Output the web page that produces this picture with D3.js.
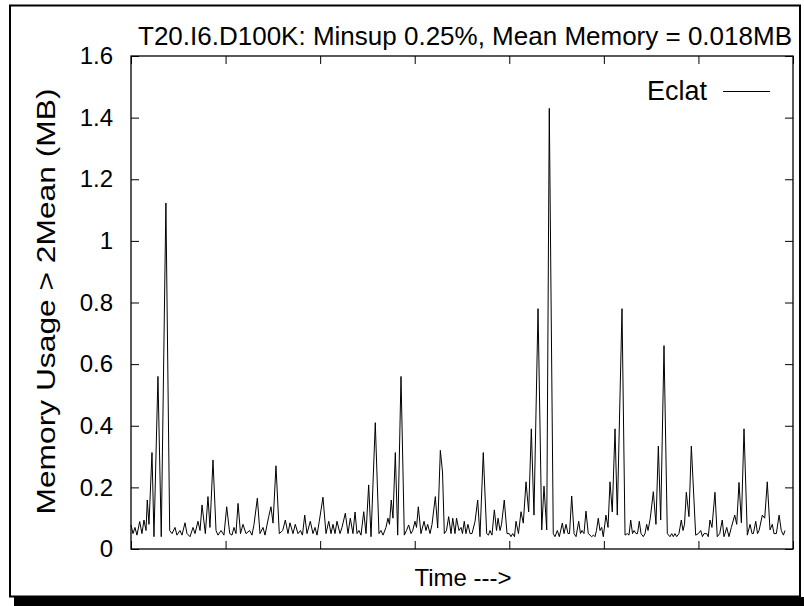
<!DOCTYPE html>
<html><head><meta charset="utf-8">
<script src="https://cdn.jsdelivr.net/npm/d3@7"></script>
<style>
html,body{margin:0;padding:0;background:#fff;}
svg{display:block;}
text{font-family:"Liberation Sans",Arial,Helvetica,sans-serif;fill:#000;}
</style></head>
<body>
<script>
const title = "T20.I6.D100K: Minsup 0.25%, Mean Memory = 0.018MB";
const xLabel = "Time --->";
const yLabel = "Memory Usage > 2Mean (MB)";
const seriesName = "Eclat";
const yTickValues = [0, 0.2, 0.4, 0.6, 0.8, 1, 1.2, 1.4, 1.6];
const xTickValues = [0, 100, 200, 300, 400, 500, 600, 700];
const time = [0,2.1,4.2,6.3,9.2,11.6,13.7,15.9,17.2,19.0,22.2,24.3,28.5,32.0,36.9,40.9,43.4,46.5,48.6,51.8,53.9,57.1,59.2,62.4,65.6,67.7,70.8,73.0,75.1,78.6,81.4,83.5,86.7,89.9,92.0,95.2,98.3,101.2,104.4,106.8,108.9,111.0,113.2,115.8,118.4,121.6,125.5,127.9,130.1,133.6,136.4,139.6,141.7,
145.6,148.0,150.2,153.3,156.8,160.4,163.2,166.0,168.1,171.3,173.7,176.6,179.2,181.3,183.7,186.1,189.6,192.4,194.6,196.7,199.1,203.0,206.2,209.1,211.5,213.6,215.7,217.8,221.0,223.1,226.6,229.5,231.9,234.7,236.9,239.0,241.1,243.2,246.1,248.5,251.3,253.8,258.3,262.2,264.3,266.5,269.6,271.7,273.3,275.2,277.0,279.5,282.0,285.5,289.0,
291.3,293.6,296.1,297.9,300.3,301.9,303.8,306.6,309.9,311.9,313.7,316.2,318.3,321.8,324.3,327.1,329.4,331.3,333.6,335.9,338.4,340.2,342.6,344.2,346.8,349.0,350.5,352.4,354.2,356.3,358.5,360.6,363.8,366.6,369.0,372.5,376.1,378.0,379.6,381.7,384.2,386.5,388.1,390.2,391.8,394.7,397.6,400.0,401.8,403.6,405.5,407.1,409.7,412.4,414.8,417.7,420.5,423.3,426.1,430.4,434.3,436.7,439.6,442.3,
446.5,448.3,450.8,452.9,456.1,457.9,460.0,462.1,463.7,466.0,468.5,470.6,473.4,475.3,476.9,479.0,481.1,483.5,485.4,487.1,489.0,490.6,492.2,494.1,495.9,497.7,499.4,502.2,504.4,506.5,508.9,511.8,514.2,519.2,522.4,524.8,526.6,528.4,530.3,531.9,534.0,535.6,537.5,539.3,541.7,543.5,545.3,546.7,549.1,552.3,555.1,557.6,560.1,563.6,
567.1,569.9,571.8,573.4,575.2,577.0,579.4,581.9,583.7,585.3,587.2,590.0,592.5,597.1,599.9,602.4,604.3,605.9,608.8,610.4,612.2,614.3,617.5,619.9,622.5,625.2,627.0,628.1,629.9,632.3,634.8,638.4,640.5,642.9,645.4,648.2,651.7,654.6,656.7,658.1,660.6,662.5,664.1,667.6,670.1,672.8,675.7,678.1,679.9,682.4,685.3,687.6,689.9,691.5];
const memory = [0.078,0.05,0.07,0.045,0.089,0.05,0.094,0.06,0.159,0.08,0.313,0.04,0.56,0.04,1.123,0.06,0.05,0.07,0.045,0.06,0.045,0.085,0.05,0.04,0.07,0.05,0.09,0.06,0.143,0.05,0.17,0.07,0.289,0.06,0.045,0.06,0.045,0.137,0.05,0.045,0.07,0.05,0.148,0.05,0.08,0.05,0.06,0.045,0.08,0.165,0.05,0.07,0.045,
0.105,0.137,0.084,0.27,0.05,0.06,0.094,0.05,0.085,0.05,0.08,0.05,0.06,0.045,0.11,0.05,0.09,0.05,0.07,0.045,0.09,0.168,0.05,0.09,0.05,0.08,0.05,0.09,0.05,0.07,0.116,0.05,0.1,0.05,0.12,0.05,0.06,0.045,0.121,0.05,0.208,0.04,0.41,0.05,0.06,0.045,0.07,0.1,0.08,0.159,0.1,0.313,0.045,0.56,0.045,
0.06,0.078,0.05,0.06,0.09,0.07,0.137,0.05,0.09,0.06,0.08,0.05,0.08,0.17,0.068,0.32,0.25,0.05,0.06,0.105,0.05,0.1,0.05,0.1,0.06,0.07,0.05,0.09,0.05,0.08,0.05,0.05,0.09,0.159,0.04,0.313,0.05,0.045,0.06,0.045,0.127,0.06,0.1,0.06,0.08,0.159,0.05,0.05,0.04,0.05,0.04,0.09,0.05,0.121,0.084,0.218,0.12,0.39,0.11,0.78,0.062,0.204,0.062,1.43,
0.05,0.04,0.06,0.04,0.084,0.05,0.08,0.05,0.05,0.172,0.05,0.04,0.09,0.05,0.06,0.05,0.123,0.05,0.045,0.04,0.045,0.04,0.06,0.1,0.06,0.07,0.04,0.11,0.07,0.218,0.12,0.39,0.11,0.78,0.045,0.05,0.045,0.094,0.05,0.06,0.05,0.05,0.09,0.05,0.04,0.05,0.08,0.06,0.1,0.186,0.08,0.334,0.094,0.66,
0.05,0.04,0.05,0.04,0.05,0.04,0.05,0.094,0.06,0.08,0.184,0.105,0.334,0.045,0.05,0.06,0.04,0.05,0.05,0.04,0.094,0.07,0.184,0.04,0.05,0.094,0.04,0.05,0.07,0.04,0.07,0.11,0.08,0.216,0.085,0.39,0.045,0.08,0.05,0.05,0.09,0.05,0.06,0.11,0.1,0.218,0.062,0.08,0.05,0.05,0.11,0.06,0.045,0.06];

const W = 804, H = 606;
const plot = {left:131, right:793, top:56, bottom:549};
const svg = d3.select("body").append("svg").attr("width", W).attr("height", H);

// outer frame with shadow
svg.append("rect").attr("x", 14).attr("y", 597).attr("width", 790).attr("height", 9).attr("fill", "#000");
svg.append("rect").attr("x", 10).attr("y", 5.5).attr("width", 790).attr("height", 591).attr("fill", "none").attr("stroke", "#000").attr("stroke-width", 2);

const x = d3.scaleLinear().domain([0, 700]).range([plot.left, plot.right]);
const y = d3.scaleLinear().domain([0, 1.6]).range([plot.bottom, plot.top]);

const fmt = d => d3.format("~g")(d);
const tl = 8;
svg.append("g").attr("transform", `translate(0,${plot.bottom})`)
  .call(d3.axisBottom(x).tickValues(xTickValues).tickSize(-tl).tickFormat(""))
  .call(g => g.select(".domain").remove());
svg.append("g").attr("transform", `translate(0,${plot.top})`)
  .call(d3.axisTop(x).tickValues(xTickValues).tickSize(-tl).tickFormat(""))
  .call(g => g.select(".domain").remove());
const ly = svg.append("g").attr("transform", `translate(${plot.left},0)`)
  .call(d3.axisLeft(y).tickValues(yTickValues).tickSize(-tl).tickPadding(18).tickFormat(fmt))
  .call(g => g.select(".domain").remove());
ly.selectAll("text").attr("font-size", 24).attr("font-family", "Liberation Sans, Arial, sans-serif").attr("fill", "#000");
svg.append("g").attr("transform", `translate(${plot.right},0)`)
  .call(d3.axisRight(y).tickValues(yTickValues).tickSize(-tl).tickFormat(""))
  .call(g => g.select(".domain").remove());
svg.selectAll(".tick line").attr("stroke", "#000");

svg.append("rect").attr("x", plot.left).attr("y", plot.top)
  .attr("width", plot.right - plot.left).attr("height", plot.bottom - plot.top)
  .attr("fill", "none").attr("stroke", "#000").attr("stroke-width", 1.3);

const pts = time.map((t, i) => [t, memory[i]]);
svg.append("path").datum(pts)
  .attr("fill", "none").attr("stroke", "#000").attr("stroke-width", 1)
  .attr("d", d3.line().x(d => x(d[0])).y(d => y(d[1])));

// legend
svg.append("text").attr("x", 707).attr("y", 100).attr("text-anchor", "end").attr("font-size", 27).text(seriesName);
svg.append("line").attr("x1", 723).attr("x2", 770).attr("y1", 91.5).attr("y2", 91.5).attr("stroke", "#000").attr("stroke-width", 1);

svg.append("text").attr("x", 465).attr("y", 45).attr("text-anchor", "middle").attr("font-size", 26).text(title);
svg.append("text").attr("x", 463).attr("y", 586).attr("text-anchor", "middle").attr("font-size", 24).text(xLabel);
svg.append("text").attr("transform", `translate(55,${301.5}) rotate(-90)`)
  .attr("text-anchor", "middle").attr("font-size", 25)
  .attr("textLength", 426).attr("lengthAdjust", "spacingAndGlyphs").text(yLabel);
</script>
</body></html>
